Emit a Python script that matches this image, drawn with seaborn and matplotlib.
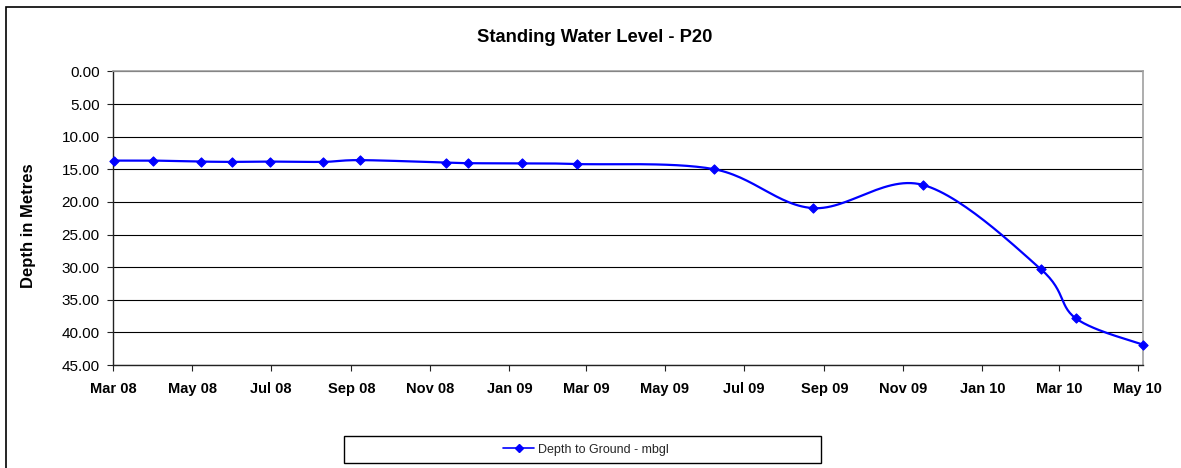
import numpy as np
import pandas as pd
import matplotlib
matplotlib.use("Agg")
import matplotlib.pyplot as plt
import matplotlib.dates as mdates
from matplotlib.patches import Rectangle
from matplotlib.lines import Line2D
import seaborn as sns

# ---- data ----
dates = ["2008-03-02", "2008-04-01", "2008-05-08", "2008-06-01", "2008-06-30",
         "2008-08-10", "2008-09-08", "2008-11-13", "2008-11-30", "2009-01-11",
         "2009-02-22", "2009-06-08", "2009-08-23", "2009-11-16", "2010-02-15",
         "2010-03-14", "2010-05-05"]
depths = [13.67, 13.67, 13.82, 13.87, 13.82, 13.87, 13.60, 13.97, 14.07, 14.10,
          14.20, 14.99, 20.95, 17.39, 30.28, 37.83, 41.90]
series_name = "Depth to Ground - mbgl"
title = "Standing Water Level - P20"
ylabel = "Depth in Metres"

sns.set_theme(style="white")
plt.rcParams['font.family'] = ['Liberation Sans', 'DejaVu Sans']

df = pd.DataFrame({"date": pd.to_datetime(dates), "depth": depths})
xnum = mdates.date2num(df["date"])
ynum = df["depth"].to_numpy()

# Excel-like smoothed line (Catmull-Rom Bezier through the data points)
P = np.column_stack([xnum, ynum])
Pext = np.vstack([P[0], P, P[-1]])
seg = []
t = np.linspace(0, 1, 30)[:, None]
for i in range(len(P) - 1):
    p0, p3 = Pext[i + 1], Pext[i + 2]
    c1 = p0 + (Pext[i + 2] - Pext[i]) / 6.0
    c2 = p3 - (Pext[i + 3] - Pext[i + 1]) / 6.0
    b = (1 - t) ** 3 * p0 + 3 * (1 - t) ** 2 * t * c1 + 3 * (1 - t) * t ** 2 * c2 + t ** 3 * p3
    seg.append(b if i == 0 else b[1:])
curve = np.vstack(seg)
smooth = pd.DataFrame({"date": mdates.num2date(curve[:, 0]), "depth": curve[:, 1]})
smooth["date"] = pd.to_datetime(smooth["date"]).dt.tz_localize(None)

W, H = 1181, 468
fig = plt.figure(figsize=(W / 100, H / 100), dpi=100)
ax = fig.add_axes([113 / W, 1 - 365 / H, (1143 - 113) / W, (365 - 71.4) / H])

blue = "#0000FF"
sns.lineplot(data=smooth, x="date", y="depth", sort=False, estimator=None,
             color=blue, linewidth=1.6, ax=ax, legend=False)
sns.scatterplot(data=df, x="date", y="depth", marker="D", s=22, color=blue,
                edgecolor=blue, linewidth=0.8, ax=ax, legend=False, zorder=5,
                clip_on=False)

ax.set_xlim(mdates.date2num(pd.Timestamp("2008-03-01")), xnum[-1])
ax.set_ylim(45, 0)
ax.set_yticks(np.arange(0, 46, 5))
ax.yaxis.set_major_formatter(matplotlib.ticker.FormatStrFormatter("%.2f"))
ax.xaxis.set_major_locator(mdates.MonthLocator(bymonth=[1, 3, 5, 7, 9, 11]))
ax.xaxis.set_major_formatter(mdates.DateFormatter("%b %y"))
ax.grid(axis="y", color="black", linewidth=0.8)
ax.grid(axis="x", visible=False)
ax.set_axisbelow(True)
ax.set_xlabel("")
ax.set_ylabel("")

for s in ["top", "right"]:
    ax.spines[s].set_color("#a0a0a0")
    ax.spines[s].set_linewidth(1.2)
for s in ["left", "bottom"]:
    ax.spines[s].set_color("#222222")
    ax.spines[s].set_linewidth(1.0)

ax.tick_params(axis="x", direction="out", length=4, width=0.8, color="#222222",
               pad=8, labelsize=10.5, bottom=True)
ax.tick_params(axis="y", direction="out", length=4.5, width=0.8, color="#222222",
               pad=5, labelsize=11, left=True)
for lab in ax.get_xticklabels():
    lab.set_fontweight("bold")
    lab.set_color("black")
for lab in ax.get_yticklabels():
    lab.set_color("black")

fig.text(595 / W, 1 - 41.7 / H, title, ha="center", va="baseline",
         fontsize=13.2, fontweight="bold", color="black")
fig.text(29 / W, 1 - 226 / H, ylabel, ha="center", va="center", rotation=90,
         fontsize=12, fontweight="bold", color="black")

# outer chart border (cropped at right/bottom)
fig.patches.append(Rectangle((6 / W, -0.05), 1.1, 1 - 7 / H + 0.05,
                             transform=fig.transFigure, fill=False,
                             edgecolor="black", linewidth=1.2))
# legend box
fig.patches.append(Rectangle((344 / W, 1 - 463 / H), (821 - 344) / W, 27 / H,
                             transform=fig.transFigure, fill=False,
                             edgecolor="black", linewidth=1.0))
handle = Line2D([], [], color=blue, linewidth=1.2, marker="D", markersize=4.2)
fig.legend([handle], [series_name], loc="center", frameon=False,
           bbox_to_anchor=(586 / W, 1 - 449.5 / H), fontsize=9,
           handlelength=2.45, handletextpad=0.3, borderpad=0)

fig.savefig("out.png", dpi=100)
